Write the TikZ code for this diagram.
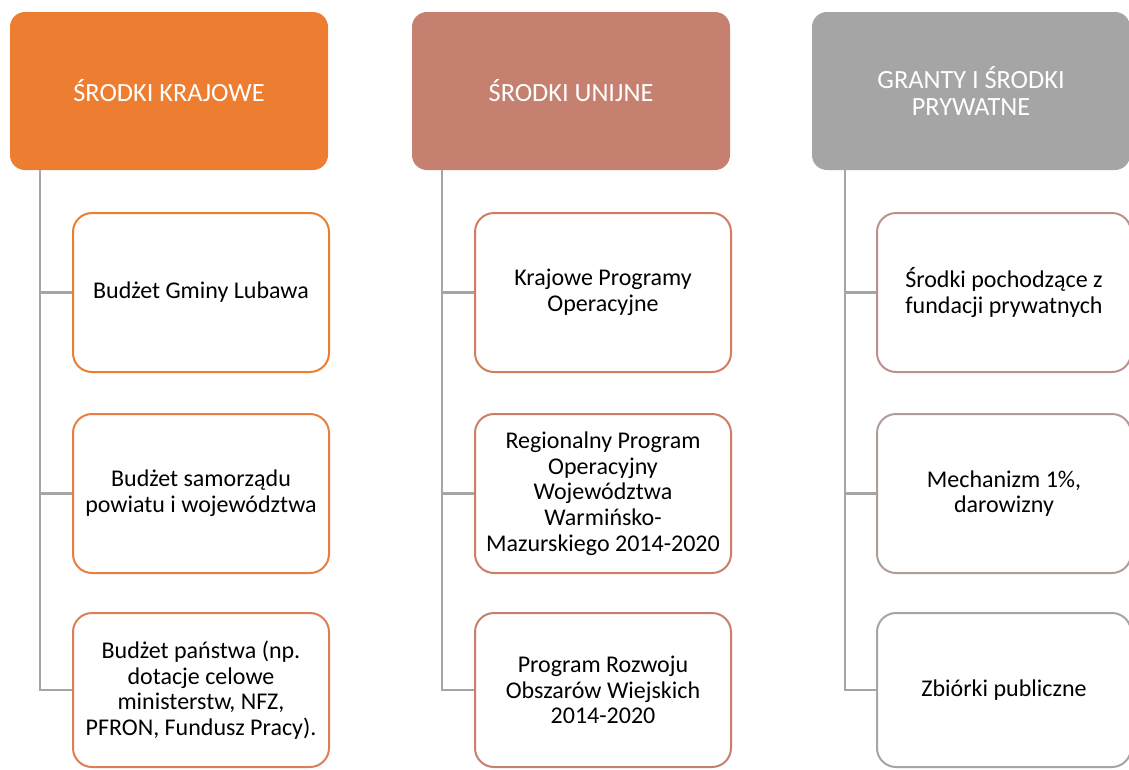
\documentclass[tikz,border=0pt]{standalone}
\usepackage{fontspec}
\setmainfont{Carlito}
\definecolor{hA}{HTML}{ED7D31}
\definecolor{hB}{HTML}{C5806F}
\definecolor{hC}{HTML}{A5A5A5}
\definecolor{bA1}{HTML}{ED7D31}
\definecolor{bA2}{HTML}{E87E44}
\definecolor{bA3}{HTML}{DE7E58}
\definecolor{bB1}{HTML}{D27D60}
\definecolor{bB2}{HTML}{CC7E66}
\definecolor{bB3}{HTML}{C5806E}
\definecolor{bC1}{HTML}{BC918B}
\definecolor{bC2}{HTML}{B09D9A}
\definecolor{bC3}{HTML}{A5A5A5}
\definecolor{conncol}{HTML}{A5A5A5}
\tikzset{
  head/.style={rectangle, rounded corners=15pt, fill=#1, draw=none, text=white,
    minimum width=318pt, minimum height=158pt, align=center, inner sep=0pt,
    font=\fontsize{26.3}{27.5}\selectfont},
  child/.style={rectangle, rounded corners=19pt, fill=white, draw=#1, line width=2pt, text=black,
    minimum width=256pt, minimum height=159pt, align=center, inner sep=0pt,
    font=\fontsize{24}{25.7}\selectfont},
  conn/.style={draw=conncol, line width=2.4pt},
}
\begin{document}
\begin{tikzpicture}[x=1pt,y=-1pt]
\useasboundingbox (0,0) rectangle (1129,769);
% headers
\node[head=hA] (h1) at (169,91) {ŚRODKI KRAJOWE};
\node[head=hB] (h2) at (571,91) {ŚRODKI UNIJNE};
\node[head=hC] (h3) at (971,91) {GRANTY I ŚRODKI\\PRYWATNE};
% trunk coordinates
\coordinate (t1) at (40,170);
\coordinate (t2) at (442,170);
\coordinate (t3) at (845,170);
% children column 1
\node[child=bA1] (c11) at (201,292.5) {Budżet Gminy Lubawa};
\node[child=bA2] (c12) at (201,493.5) {Budżet samorządu\\powiatu i województwa};
\node[child=bA3, minimum height=154pt] (c13) at (201,690) {Budżet państwa (np.\\dotacje celowe\\ministerstw, NFZ,\\PFRON, Fundusz Pracy).};
% children column 2
\node[child=bB1] (c21) at (603,292.5) {Krajowe Programy\\Operacyjne};
\node[child=bB2] (c22) at (603,493.5) {Regionalny Program\\Operacyjny\\Województwa\\Warmińsko-\\Mazurskiego 2014-2020};
\node[child=bB3, minimum height=154pt] (c23) at (603,690) {Program Rozwoju\\Obszarów Wiejskich\\2014-2020};
% children column 3
\node[child=bC1, minimum width=254pt] (c31) at (1004,292.5) {Środki pochodzące z\\fundacji prywatnych};
\node[child=bC2, minimum width=254pt] (c32) at (1004,493.5) {Mechanizm 1\%,\\darowizny};
\node[child=bC3, minimum width=254pt, minimum height=154pt] (c33) at (1004,690) {Zbiórki publiczne};
% connectors
\draw[conn] (t1) |- (c13.west);
\draw[conn] (c11.west -| t1) -- (c11.west);
\draw[conn] (c12.west -| t1) -- (c12.west);
\draw[conn] (t2) |- (c23.west);
\draw[conn] (c21.west -| t2) -- (c21.west);
\draw[conn] (c22.west -| t2) -- (c22.west);
\draw[conn] (t3) |- (c33.west);
\draw[conn] (c31.west -| t3) -- (c31.west);
\draw[conn] (c32.west -| t3) -- (c32.west);
\end{tikzpicture}
\end{document}
